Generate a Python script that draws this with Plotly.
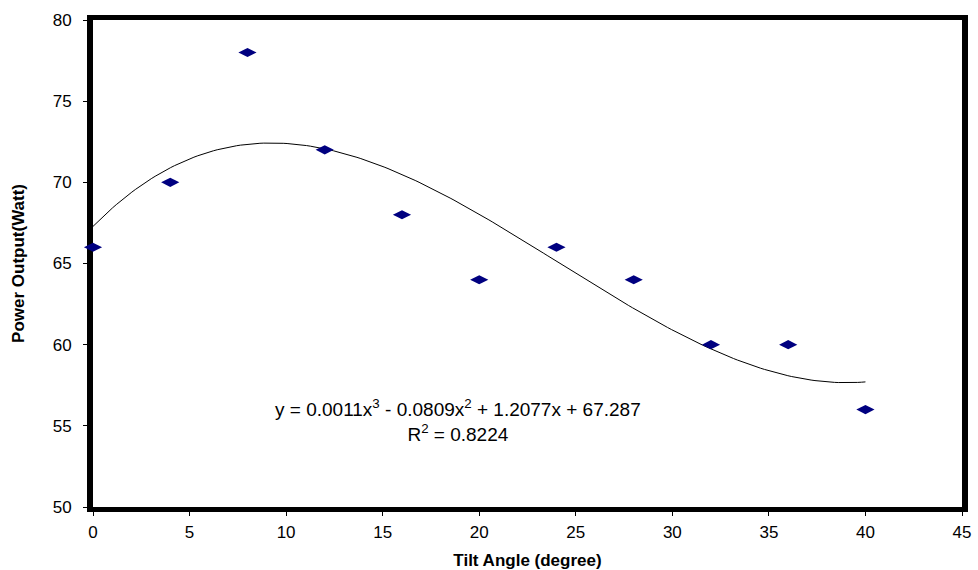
import numpy as np
import plotly.graph_objects as go

tilt_angle = [0, 4, 8, 12, 16, 20, 24, 28, 32, 36, 40]
power_output = [66, 70, 78, 72, 68, 64, 66, 64, 60, 60, 56]
x_ticks = [0, 5, 10, 15, 20, 25, 30, 35, 40, 45]
y_ticks = [50, 55, 60, 65, 70, 75, 80]
equation_text = "y = 0.0011x<sup>3</sup> - 0.0809x<sup>2</sup> + 1.2077x + 67.287<br>R<sup>2</sup> = 0.8224"

# cubic trendline fitted to the data
coef = np.polyfit(tilt_angle, power_output, 3)
xs = np.linspace(min(tilt_angle), max(tilt_angle), 200)
ys = np.polyval(coef, xs)

fig = go.Figure()
fig.add_trace(go.Scatter(x=xs, y=ys, mode="lines",
                         line=dict(color="black", width=1), hoverinfo="skip",
                         showlegend=False))
fig.add_trace(go.Scatter(x=tilt_angle, y=power_output, mode="markers",
                         marker=dict(symbol="diamond-wide", size=13, color="#000080"),
                         cliponaxis=False, showlegend=False))

fig.add_annotation(x=18.9, y=55.3, xref="x", yref="y", text=equation_text,
                   showarrow=False, align="center",
                   font=dict(family="Liberation Sans, Arial", size=19, color="black"))

font = dict(family="Liberation Sans, Arial", size=17, color="black")
fig.update_layout(
    width=978, height=570,
    margin=dict(l=93, r=16, t=20, b=63),
    paper_bgcolor="white", plot_bgcolor="white",
    font=font,
    xaxis=dict(range=[0, 45], tickvals=x_ticks, showgrid=False, zeroline=False,
               showline=True, linecolor="black", linewidth=5, mirror=True,
               ticks="outside", ticklen=4, tickcolor="black", layer="below traces",
               ticklabelstandoff=2, automargin=False,
               title=dict(text="<b>Tilt Angle (degree)</b>", font=dict(size=17), standoff=15)),
    yaxis=dict(range=[50, 80], tickvals=y_ticks, showgrid=False, zeroline=False,
               showline=True, linecolor="black", linewidth=6, mirror=True,
               ticks="outside", ticklen=4, tickcolor="black", layer="below traces",
               ticklabelstandoff=8, automargin=False,
               title=dict(text="<b>Power Output(Watt)</b>", font=dict(size=17), standoff=26)),
)

fig.write_html("out.html")
